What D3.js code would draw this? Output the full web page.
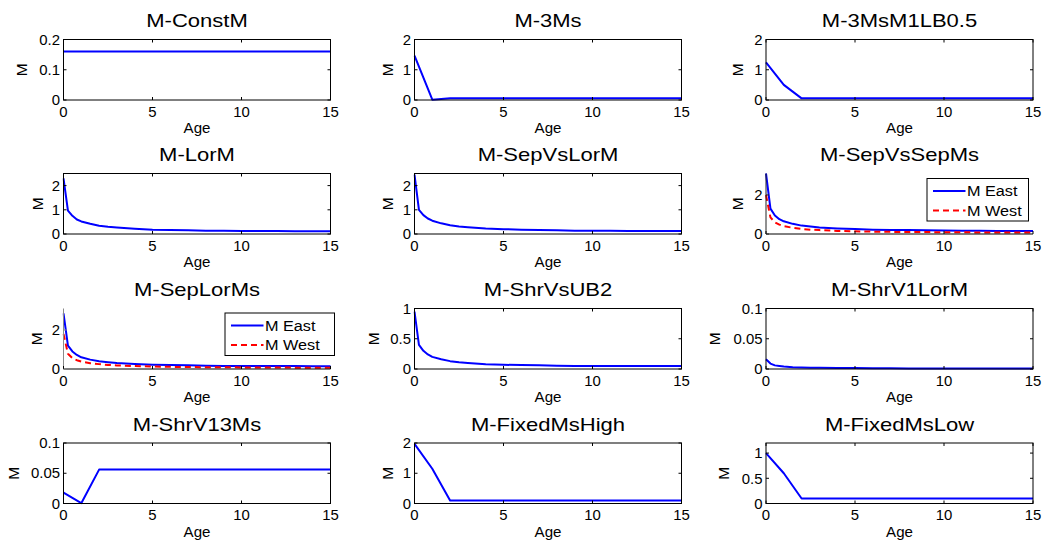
<!DOCTYPE html>
<html>
<head>
<meta charset="utf-8">
<script src="https://cdn.jsdelivr.net/npm/d3@7"></script>
<style>
  body { margin: 0; background: #fff; }
  text { font-family: "Liberation Sans", Arial, Helvetica, sans-serif; fill: #000; }
</style>
</head>
<body>
<svg id="fig" width="1043" height="546"></svg>
<script>
// Natural mortality (M) at age for each model configuration
const agesYear = [0, 1, 2, 3, 4, 5, 6, 7, 8, 9, 10, 11, 12, 13, 14, 15];
const agesFine = [0, 0.25, 0.5, 0.75, 1, 1.5, 2, 2.5, 3, 4, 5, 6, 7, 8, 9, 10, 11, 12, 13, 14, 15];

const mConstM       = [0.16, 0.16, 0.16, 0.16, 0.16, 0.16, 0.16, 0.16, 0.16, 0.16, 0.16, 0.16, 0.16, 0.16, 0.16, 0.16];
const m3Ms          = [1.47, 0.01, 0.055, 0.055, 0.055, 0.055, 0.055, 0.055, 0.055, 0.055, 0.055, 0.055, 0.055, 0.055, 0.055, 0.055];
const m3MsM1LB05    = [1.24, 0.5, 0.055, 0.055, 0.055, 0.055, 0.055, 0.055, 0.055, 0.055, 0.055, 0.055, 0.055, 0.055, 0.055, 0.055];
const mLorM         = [2.3, 0.97, 0.75, 0.6, 0.52, 0.42, 0.34, 0.3, 0.27, 0.22, 0.18, 0.17, 0.16, 0.13, 0.13, 0.12, 0.12, 0.12, 0.11, 0.11, 0.11];
const mSepVsLorM    = [2.45, 1.0, 0.78, 0.64, 0.55, 0.44, 0.36, 0.31, 0.28, 0.23, 0.2, 0.18, 0.17, 0.16, 0.13, 0.13, 0.13, 0.12, 0.12, 0.12, 0.12];
const mSepVsSepEast = [3.1, 1.3, 0.95, 0.76, 0.65, 0.52, 0.43, 0.38, 0.33, 0.28, 0.25, 0.22, 0.21, 0.2, 0.19, 0.18, 0.17, 0.17, 0.16, 0.16, 0.16];
const mSepVsSepWest = [2.0, 0.85, 0.6, 0.48, 0.4, 0.32, 0.26, 0.22, 0.2, 0.16, 0.14, 0.12, 0.11, 0.1, 0.1, 0.09, 0.09, 0.08, 0.08, 0.08, 0.08];
const mSepLorEast   = [2.85, 1.2, 0.9, 0.72, 0.6, 0.48, 0.4, 0.35, 0.31, 0.26, 0.22, 0.2, 0.19, 0.17, 0.16, 0.16, 0.15, 0.15, 0.15, 0.14, 0.14];
const mSepLorWest   = [1.8, 0.78, 0.56, 0.45, 0.38, 0.3, 0.25, 0.21, 0.18, 0.15, 0.13, 0.11, 0.1, 0.09, 0.09, 0.08, 0.08, 0.08, 0.07, 0.07, 0.07];
const mShrVsUB2     = [0.95, 0.4, 0.3, 0.24, 0.2, 0.16, 0.13, 0.11, 0.1, 0.08, 0.07, 0.065, 0.06, 0.055, 0.05, 0.05, 0.05, 0.05, 0.05, 0.05, 0.05];
const mShrV1LorM    = [0.016, 0.009, 0.006, 0.005, 0.004, 0.003, 0.0025, 0.0022, 0.002, 0.0018, 0.0015, 0.0012, 0.0011, 0.001, 0.001, 0.001, 0.001, 0.001, 0.001, 0.001, 0.001];
const mShrV13Ms     = [0.018, 0.0005, 0.056, 0.056, 0.056, 0.056, 0.056, 0.056, 0.056, 0.056, 0.056, 0.056, 0.056, 0.056, 0.056, 0.056];
const mFixedHigh    = [1.97, 1.15, 0.1, 0.1, 0.1, 0.1, 0.1, 0.1, 0.1, 0.1, 0.1, 0.1, 0.1, 0.1, 0.1, 0.1];
const mFixedLow     = [1.0, 0.6, 0.1, 0.1, 0.1, 0.1, 0.1, 0.1, 0.1, 0.1, 0.1, 0.1, 0.1, 0.1, 0.1, 0.1];

const titles = ["M-ConstM", "M-3Ms", "M-3MsM1LB0.5",
                "M-LorM", "M-SepVsLorM", "M-SepVsSepMs",
                "M-SepLorMs", "M-ShrVsUB2", "M-ShrV1LorM",
                "M-ShrV13Ms", "M-FixedMsHigh", "M-FixedMsLow"];
const xTicks = [0, 5, 10, 15];
const yMaxes = [0.2, 2, 2, 2.5, 2.5, 3.1, 3.1, 1, 0.1, 0.1, 2, 1.2];
const yTickSets = [[0, 0.1, 0.2], [0, 1, 2], [0, 1, 2],
                   [0, 1, 2], [0, 1, 2], [0, 2],
                   [0, 2], [0, 0.5, 1], [0, 0.05, 0.1],
                   [0, 0.05, 0.1], [0, 1, 2], [0, 0.5, 1]];
const legendLabels = ["M East", "M West"];

const panels = [
  { series: [{ x: agesYear, y: mConstM }] },
  { series: [{ x: agesYear, y: m3Ms }] },
  { series: [{ x: agesYear, y: m3MsM1LB05 }] },
  { series: [{ x: agesFine, y: mLorM }] },
  { series: [{ x: agesFine, y: mSepVsLorM }] },
  { series: [{ x: agesFine, y: mSepVsSepEast }, { x: agesFine, y: mSepVsSepWest, dashed: true }],
    legend: { x: 161, y: 5, w: 101.5, h: 42.5 }, open: true, axisColor: "#222" },
  { series: [{ x: agesFine, y: mSepLorEast }, { x: agesFine, y: mSepLorWest, dashed: true }],
    legend: { x: 161.5, y: 4.5, w: 109.5, h: 42.5 }, open: true, axisColor: "#8a8a8a" },
  { series: [{ x: agesFine, y: mShrVsUB2 }] },
  { series: [{ x: agesFine, y: mShrV1LorM }] },
  { series: [{ x: agesYear, y: mShrV13Ms }] },
  { series: [{ x: agesYear, y: mFixedHigh }] },
  { series: [{ x: agesYear, y: mFixedLow }] }
];

// grid geometry
const colLeft = [63.5, 414.5, 766];
const rowTop = [39.5, 173.5, 308.5, 443];
const W = 267, H = 60.5;
const tickLen = 3;
const yLabelOffset = [42, 27.5, 28.5, 26, 27.5, 28.5, 27, 41, 51.5, 50, 27.5, 42.5];

// type sizes (height) and horizontal widening of glyphs
const tickFont = 14.5, tickSx = 1.03;
const titleFont = 18.5, titleSx = 1.19;
const labelFont = 14.5, labelSx = 1.04;
const legendFont = 14.5, legendSx = 1.12;

const svg = d3.select("#fig");

function addText(g, x, y, str, size, sx, anchor, dy) {
  return g.append("text")
    .attr("transform", `translate(${x},${y}) scale(${sx},1)`)
    .attr("text-anchor", anchor || "start")
    .attr("dy", dy || null)
    .attr("font-size", size)
    .text(str);
}

panels.forEach((p, i) => {
  const row = Math.floor(i / 3), col = i % 3;
  const g = svg.append("g").attr("transform", `translate(${colLeft[col]},${rowTop[row]})`);
  const x = d3.scaleLinear().domain([0, 15]).range([0, W]);
  const y = d3.scaleLinear().domain([0, yMaxes[i]]).range([H, 0]);
  const yTicks = yTickSets[i];

  // clip region for data lines
  const clipId = "clip" + i;
  g.append("clipPath").attr("id", clipId).append("rect")
    .attr("x", -1).attr("y", -1).attr("width", W + 2).attr("height", H + 2);

  // data lines
  const line = d3.line().x(d => x(d[0])).y(d => y(d[1]));
  p.series.forEach(s => {
    g.append("path")
      .attr("clip-path", `url(#${clipId})`)
      .datum(s.x.map((a, k) => [a, s.y[k]]))
      .attr("d", line)
      .attr("fill", "none")
      .attr("stroke", s.dashed ? "#ff0000" : "#0000ff")
      .attr("stroke-width", 2)
      .attr("stroke-dasharray", s.dashed ? "6,4" : null)
      .attr("stroke-linejoin", "round");
  });

  // axes frame
  const ac = p.axisColor || "#000";
  if (p.open) {
    g.append("line").attr("x1", 0).attr("x2", W).attr("y1", H).attr("y2", H)
      .attr("stroke", "#000").attr("stroke-width", 1);
    g.append("line").attr("x1", 0).attr("x2", 0).attr("y1", 0).attr("y2", H)
      .attr("stroke", ac).attr("stroke-width", 1);
  } else {
    g.append("rect").attr("x", 0).attr("y", 0).attr("width", W).attr("height", H)
      .attr("fill", "none").attr("stroke", "#000").attr("stroke-width", 1);
  }

  // x ticks (inward, bottom and top)
  xTicks.forEach(t => {
    const xp = x(t);
    g.append("line").attr("x1", xp).attr("x2", xp).attr("y1", H).attr("y2", H - tickLen).attr("stroke", "#000");
    if (!p.open) g.append("line").attr("x1", xp).attr("x2", xp).attr("y1", 0).attr("y2", tickLen).attr("stroke", "#000");
    addText(g, xp, H + 16.5, String(t), tickFont, tickSx, "middle");
  });

  // y ticks (inward, left and right)
  yTicks.forEach(t => {
    const yp = y(t);
    g.append("line").attr("x1", 0).attr("x2", tickLen).attr("y1", yp).attr("y2", yp).attr("stroke", ac);
    if (!p.open) g.append("line").attr("x1", W).attr("x2", W - tickLen).attr("y1", yp).attr("y2", yp).attr("stroke", "#000");
    addText(g, -3.5, yp, String(t), tickFont, tickSx, "end", "0.36em");
  });

  // axis labels and title
  g.append("text").attr("transform", `translate(${-yLabelOffset[i]},${H / 2}) rotate(-90)`)
    .attr("text-anchor", "middle").attr("dy", "0.36em").attr("font-size", 15.5).text("M");
  addText(g, W / 2, H + 33, "Age", labelFont, labelSx, "middle");
  addText(g, W / 2, -12.5, titles[i], titleFont, titleSx, "middle");

  // legend box
  if (p.legend) {
    const L = p.legend;
    const lg = g.append("g").attr("transform", `translate(${L.x},${L.y})`);
    lg.append("rect").attr("width", L.w).attr("height", L.h)
      .attr("fill", "#fff").attr("stroke", "#000").attr("stroke-width", 1);
    p.series.forEach((s, k) => {
      const cy = 12.5 + k * 19.5;
      lg.append("line").attr("x1", 6).attr("x2", 38.5).attr("y1", cy).attr("y2", cy)
        .attr("stroke", s.dashed ? "#ff0000" : "#0000ff").attr("stroke-width", 2)
        .attr("stroke-dasharray", s.dashed ? "6,4" : null);
      addText(lg, 40, cy, legendLabels[k], legendFont, legendSx, "start", "0.36em");
    });
  }
});
</script>
</body>
</html>
